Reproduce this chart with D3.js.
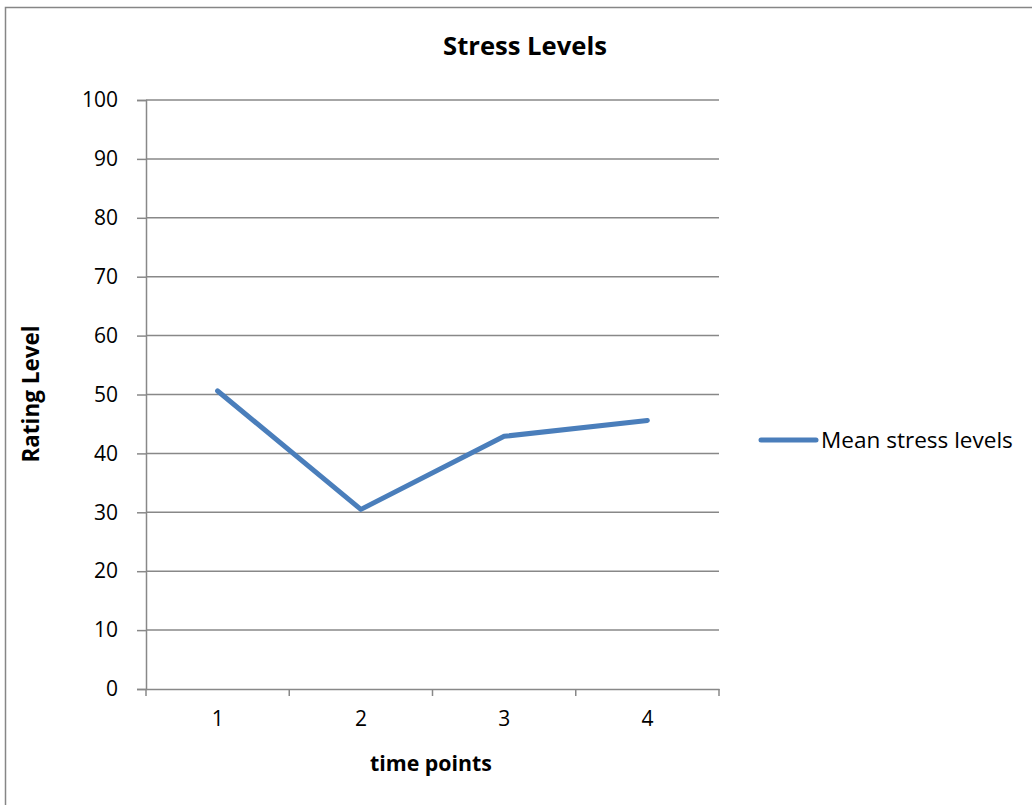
<!DOCTYPE html>
<html><head><meta charset="utf-8">
<script src="https://cdn.jsdelivr.net/npm/d3@7"></script>
<style>body{margin:0;background:#fff;} svg{display:block;}</style>
</head><body>
<script>
const categories = ["1", "2", "3", "4"];
const meanStress = [50.6, 30.5, 42.9, 45.6];
const yTicks = [0, 10, 20, 30, 40, 50, 60, 70, 80, 90, 100];
const seriesName = "Mean stress levels";
const title = "Stress Levels";
const xTitle = "time points";
const yTitle = "Rating Level";

const W = 1032, H = 805;
const font = "'Open Sans', Lato, sans-serif";
const svg = d3.select("body").append("svg").attr("width", W).attr("height", H);
svg.append("rect").attr("x", 5.5).attr("y", 7.5).attr("width", W + 10).attr("height", H + 10)
  .attr("fill", "#fff").attr("stroke", "#868686").attr("stroke-width", 1.5);

// fit a text element's font size so that its width matches a target width
function fit(sel, target) {
  const base = +sel.attr("font-size");
  const w = sel.node().getComputedTextLength();
  sel.attr("font-size", (base * target / w).toFixed(2));
}

const L = 146, R = 719, T = 100, B = 689;
const x = d3.scaleBand().domain(categories).range([L, R]);
const y = d3.scaleLinear().domain([0, 100]).range([B, T]);

// gridlines
svg.append("g").selectAll("line").data(yTicks.filter(d => d > 0)).join("line")
  .attr("x1", L).attr("x2", R).attr("y1", d => y(d)).attr("y2", d => y(d))
  .attr("stroke", "#888").attr("stroke-width", 1.5);

const tickSize = 21;
// y axis
const ya = svg.append("g").attr("transform", `translate(${L},0)`)
  .call(d3.axisLeft(y).tickValues(yTicks).tickSize(9).tickPadding(19));
ya.select(".domain").attr("stroke", "#888").attr("stroke-width", 1.5);
ya.selectAll(".tick line").attr("stroke", "#888").attr("stroke-width", 1.5);
ya.selectAll("text").attr("font-family", font).attr("font-size", tickSize).attr("fill", "#000");

// x axis
const xa = svg.append("g").attr("transform", `translate(0,${B})`)
  .call(d3.axisBottom(x).tickSize(0).tickPadding(22));
xa.select(".domain").attr("stroke", "#888").attr("stroke-width", 1.5);
xa.selectAll("text").attr("font-family", font).attr("font-size", tickSize).attr("fill", "#000");
const bounds = categories.map(c => x(c)).concat([R]);
svg.append("g").selectAll("line").data(bounds).join("line")
  .attr("x1", d => d).attr("x2", d => d).attr("y1", B).attr("y2", B + 7)
  .attr("stroke", "#888").attr("stroke-width", 1.5);

// line
const line = d3.line().x((d, i) => x(categories[i]) + x.bandwidth() / 2).y(d => y(d));
svg.append("path").datum(meanStress).attr("d", line).attr("fill", "none")
  .attr("stroke", "#4a7ebb").attr("stroke-width", 5).attr("stroke-linecap", "round").attr("stroke-linejoin", "round");

// titles
const t1 = svg.append("text").attr("x", 525).attr("y", 55).attr("text-anchor", "middle")
  .attr("font-family", font).attr("font-weight", "bold").attr("font-size", 22).text(title);
fit(t1, 164);
const t2 = svg.append("text").attr("x", 431).attr("y", 771).attr("text-anchor", "middle")
  .attr("font-family", font).attr("font-weight", "bold").attr("font-size", 20).text(xTitle);
fit(t2, 122);
const t3 = svg.append("text").attr("transform", "translate(39,394) rotate(-90)").attr("text-anchor", "middle")
  .attr("font-family", font).attr("font-weight", "bold").attr("font-size", 20).text(yTitle);
fit(t3, 137);

// legend
svg.append("line").attr("x1", 761).attr("x2", 816).attr("y1", 440).attr("y2", 440)
  .attr("stroke", "#4a7ebb").attr("stroke-width", 5).attr("stroke-linecap", "round");
const lt = svg.append("text").attr("x", 821).attr("y", 448).attr("font-family", font).attr("font-size", 21).text(seriesName);
fit(lt, 192);
</script>
</body></html>
